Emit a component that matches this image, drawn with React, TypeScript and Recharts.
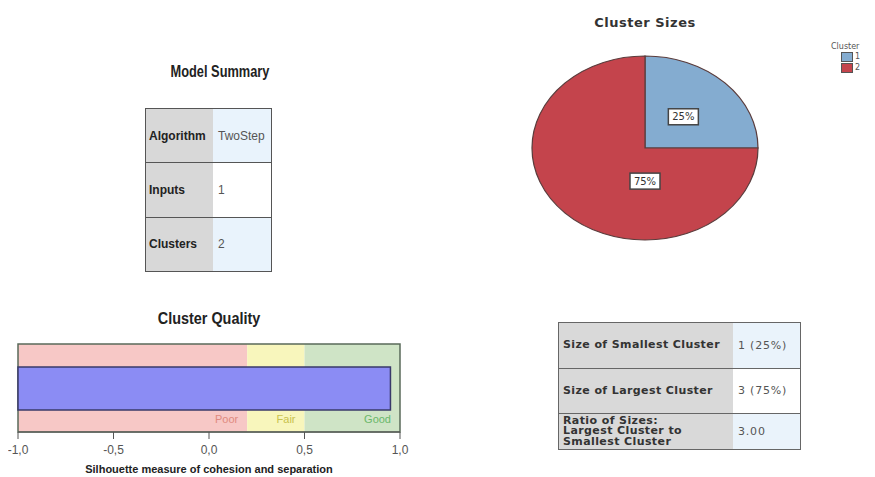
import React from 'react';
import {
  PieChart,
  Pie,
  Cell,
  BarChart,
  Bar,
  XAxis,
  YAxis,
  ReferenceArea,
} from 'recharts';

// Model summary table
const SUMMARY_LABELS = ['Algorithm', 'Inputs', 'Clusters'];
const SUMMARY_VALUES = ['TwoStep', '1', '2'];

// Cluster sizes pie
const CLUSTER_NAMES = ['1', '2'];
const CLUSTER_COUNTS = [1, 3];

// Cluster quality (silhouette)
const SILHOUETTE_AVG = 0.95;
const BAND_NAMES = ['Poor', 'Fair', 'Good'];
const BAND_EDGES = [-1, 0.2, 0.5, 1];
const AXIS_TICKS = [-1, -0.5, 0, 0.5, 1];

// Size table
const SIZE_LABELS = [
  'Size of Smallest Cluster',
  'Size of Largest Cluster',
  'Ratio of Sizes:\nLargest Cluster to\nSmallest Cluster',
];
const SIZE_VALUES = ['1 (25%)', '3 (75%)', '3.00'];

const PIE_COLORS = ['#84acd0', '#c4444c'];
const BAND_FILLS = ['#f7c8c6', '#f8f6bc', '#cfe4c6'];
const BAND_TEXT = ['#e08a80', '#c9c24e', '#6ab86a'];

const NARROW = "'Liberation Sans', Arial, sans-serif";
const WIDE = "'DejaVu Sans', Verdana, sans-serif";

const SX = 113 / 92; // pie is drawn as an ellipse

const pieData = CLUSTER_NAMES.map((name, i) => ({ name, value: CLUSTER_COUNTS[i] }));
const qualityData = [{ name: 'Silhouette', range: [-1, SILHOUETTE_AVG] }];

const fmt = (v: number) => v.toFixed(1).replace('.', ',');

const PieLabel = (props: any) => {
  const { cx, cy, midAngle, outerRadius, percent } = props;
  const RAD = Math.PI / 180;
  // the big slice gets its label straight below the centre
  const ang = percent > 0.5 ? -90 : midAngle;
  const r = outerRadius * (percent > 0.5 ? 0.36 : 0.48);
  const x = cx + r * Math.cos(ang * RAD);
  const y = cy - r * Math.sin(ang * RAD);
  return (
    <g transform={`translate(${x},${y}) scale(${1 / SX},1)`}>
      <rect x={-15} y={-8} width={30} height={16} fill="#fff" stroke="#444" strokeWidth={1.5} />
      <text x={0} y={3.5} textAnchor="middle" fontSize={10} fontFamily={WIDE} fill="#333">
        {`${Math.round(percent * 100)}%`}
      </text>
    </g>
  );
};

const cell = (bg: string, extra: React.CSSProperties = {}): React.CSSProperties => ({
  background: bg,
  display: 'flex',
  alignItems: 'center',
  boxSizing: 'border-box',
  ...extra,
});

const titleStyle = (left: number, top: number, sx: number): React.CSSProperties => ({
  position: 'absolute',
  left,
  top,
  width: 160,
  textAlign: 'center',
  fontFamily: NARROW,
  fontWeight: 'bold',
  fontSize: 16,
  color: '#222',
  transform: `scaleX(${sx})`,
  transformOrigin: '50% 50%',
});

export default function App() {
  return (
    <div
      style={{
        position: 'absolute',
        left: 0,
        top: 0,
        width: 875,
        height: 477,
        background: '#fff',
        overflow: 'hidden',
      }}
    >
      {/* Model Summary */}
      <div style={titleStyle(140, 63, 0.8)}>Model Summary</div>
      <div
        style={{
          position: 'absolute',
          left: 145,
          top: 108,
          width: 127,
          height: 164,
          border: '1.5px solid #555',
          boxSizing: 'border-box',
          display: 'flex',
          flexDirection: 'column',
          fontFamily: NARROW,
          fontSize: 12,
        }}
      >
        {SUMMARY_LABELS.map((lab, i) => (
          <div
            key={lab}
            style={{
              flex: 1,
              display: 'flex',
              borderTop: i > 0 ? '1.5px solid #555' : 'none',
            }}
          >
            <div style={cell('#d8d8d8', { width: 67, paddingLeft: 3, fontWeight: 'bold', color: '#222' })}>
              {lab}
            </div>
            <div
              style={cell(i === 1 ? '#ffffff' : '#e9f3fc', {
                flex: 1,
                paddingLeft: 5,
                color: '#555',
              })}
            >
              {SUMMARY_VALUES[i]}
            </div>
          </div>
        ))}
      </div>

      {/* Cluster Quality */}
      <div style={titleStyle(129, 310, 0.9)}>Cluster Quality</div>
      <div style={{ position: 'absolute', left: 8, top: 340 }}>
        <BarChart
          width={402}
          height={137}
          data={qualityData}
          layout="vertical"
          margin={{ top: 4, right: 10, left: 10, bottom: 0 }}
          barCategoryGap={0}
        >
          <XAxis
            type="number"
            domain={[-1, 1]}
            ticks={AXIS_TICKS}
            tickFormatter={fmt}
            tick={{ fontSize: 12, fontFamily: NARROW, fill: '#555' }}
            tickLine={{ stroke: '#555' }}
            axisLine={{ stroke: '#555' }}
            tickSize={7}
            tickMargin={6}
            height={45}
            label={{
              value: 'Silhouette measure of cohesion and separation',
              position: 'insideBottom',
              offset: 4,
              fontSize: 11,
              fontFamily: NARROW,
              fontWeight: 'bold',
              fill: '#222',
            }}
          />
          <YAxis type="category" dataKey="name" hide />
          {BAND_NAMES.map((b, i) => (
            <ReferenceArea
              key={b}
              x1={BAND_EDGES[i]}
              x2={BAND_EDGES[i + 1]}
              fill={BAND_FILLS[i]}
              fillOpacity={1}
              stroke="none"
              ifOverflow="visible"
              label={{
                value: b,
                position: 'insideBottomRight',
                offset: 9,
                fontSize: 11,
                fontFamily: NARROW,
                fill: BAND_TEXT[i],
              }}
            />
          ))}
          <ReferenceArea
            x1={-1}
            x2={1}
            fill="none"
            fillOpacity={0}
            stroke="#5a6a5a"
            strokeWidth={1.5}
            ifOverflow="visible"
          />
          <Bar
            dataKey="range"
            fill="#8b8cf4"
            stroke="#3a3a6a"
            strokeWidth={1.5}
            barSize={43}
            isAnimationActive={false}
          />
        </BarChart>
      </div>

      {/* Cluster Sizes */}
      <div
        style={{
          position: 'absolute',
          left: 545,
          top: 15,
          width: 200,
          textAlign: 'center',
          fontFamily: WIDE,
          fontWeight: 'bold',
          fontSize: 13,
          letterSpacing: 0.5,
          color: '#333',
        }}
      >
        Cluster Sizes
      </div>
      <div
        style={{
          position: 'absolute',
          left: 545,
          top: 48,
          width: 200,
          height: 200,
          transform: `scaleX(${SX})`,
          transformOrigin: '50% 50%',
        }}
      >
        <PieChart width={200} height={200} margin={{ top: 0, right: 0, bottom: 0, left: 0 }}>
          <Pie
            data={pieData}
            dataKey="value"
            nameKey="name"
            cx={100}
            cy={100}
            outerRadius={92}
            startAngle={90}
            endAngle={-270}
            stroke="#5a3c3c"
            strokeWidth={1}
            label={PieLabel}
            labelLine={false}
            isAnimationActive={false}
          >
            {pieData.map((d, i) => (
              <Cell key={d.name} fill={PIE_COLORS[i]} />
            ))}
          </Pie>
        </PieChart>
      </div>
      <div
        style={{
          position: 'absolute',
          left: 831,
          top: 42,
          fontFamily: WIDE,
          fontSize: 8,
          color: '#555',
        }}
      >
        <div>Cluster</div>
        {CLUSTER_NAMES.map((n, i) => (
          <div key={n} style={{ display: 'flex', alignItems: 'center', marginLeft: 10, height: 11 }}>
            <span
              style={{
                display: 'inline-block',
                width: 10,
                height: 8,
                background: PIE_COLORS[i],
                border: '1px solid #555',
                marginRight: 2,
              }}
            />
            {n}
          </div>
        ))}
      </div>

      {/* Size table */}
      <div
        style={{
          position: 'absolute',
          left: 558,
          top: 322,
          width: 243,
          height: 128,
          border: '1.5px solid #666',
          boxSizing: 'border-box',
          display: 'flex',
          flexDirection: 'column',
          fontFamily: WIDE,
          fontSize: 11,
        }}
      >
        {SIZE_LABELS.map((lab, i) => (
          <div
            key={lab}
            style={{
              height: i === 2 ? 36 : i === 0 ? 46 : 45,
              display: 'flex',
              borderTop: i > 0 ? '1.5px solid #666' : 'none',
            }}
          >
            <div
              style={cell('#d9d9d9', {
                width: 174,
                paddingLeft: 4,
                fontWeight: 'bold',
                color: '#333',
                whiteSpace: 'pre-line',
                lineHeight: '10.5px',
                letterSpacing: 0.4,
              })}
            >
              {lab}
            </div>
            <div
              style={cell(i === 1 ? '#ffffff' : '#eaf3fb', {
                flex: 1,
                paddingLeft: 5,
                color: '#555',
                letterSpacing: 0.8,
              })}
            >
              {SIZE_VALUES[i]}
            </div>
          </div>
        ))}
      </div>
    </div>
  );
}
